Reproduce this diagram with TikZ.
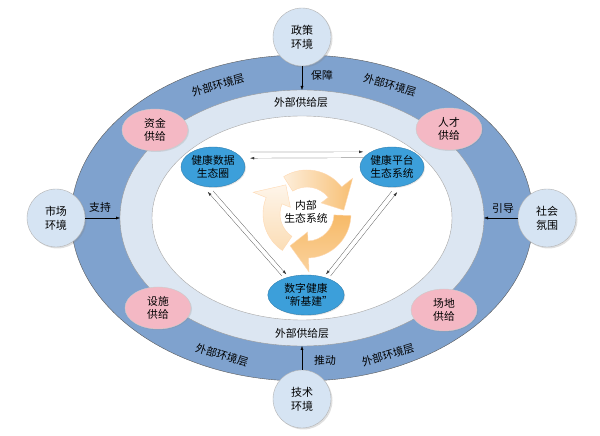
\documentclass[tikz,border=0pt]{standalone}
\usepackage{fontspec}
\newfontfamily\cjk{Noto Sans CJK SC}
\usepackage{tikz}
\usetikzlibrary{shapes.geometric,arrows.meta,shadows}
\usepackage{xcolor}
\definecolor{envring}{HTML}{7FA2CE}
\definecolor{supring}{HTML}{DCE6F2}
\definecolor{envfill}{HTML}{D6E4F3}
\definecolor{supfill}{HTML}{F4B8C4}
\definecolor{corefill}{HTML}{3C9FDA}
\definecolor{cyclepale}{HTML}{FDEEDB}
\definecolor{cyclemid}{HTML}{FAD29D}
\definecolor{cycledark}{HTML}{F7BA68}

\begin{document}
\begin{tikzpicture}[x=1pt, y=1pt,
  every node/.style={font=\cjk\fontsize{10.8}{13.5}\selectfont, align=center},
  layer/.style={ellipse, inner sep=0pt, outer sep=0pt},
  envnode/.style={circle, draw=gray!60, fill=envfill, minimum size=58pt, inner sep=0pt, outer sep=0pt,
    drop shadow={opacity=0.25, shadow xshift=1.5pt, shadow yshift=-1.5pt}, font=\cjk\fontsize{11}{14}\selectfont},
  supnode/.style={ellipse, draw=gray!40, fill=supfill, minimum width=66pt, minimum height=42pt, inner sep=0pt,
    drop shadow={opacity=0.2, shadow xshift=1pt, shadow yshift=-1pt}},
  corenode/.style={ellipse, draw=corefill!80!black, fill=corefill, minimum width=64pt, minimum height=40pt,
    inner sep=0pt, outer sep=0pt, drop shadow={opacity=0.2, shadow xshift=1pt, shadow yshift=-1pt}},
  link/.style={-{Latex[length=4pt,width=3pt]}, thin, black},
  flow/.style={-{Latex[length=4pt,width=2.6pt]}, very thin, black!80},
]
\useasboundingbox (0,0) rectangle (600,436);

% Layers
\node[layer, draw=black!65, fill=envring, minimum width=462pt, minimum height=326pt] (envlayer) at (302,218) {};
\node[layer, draw=gray!80, fill=supring, minimum width=364pt, minimum height=256pt] (suplayer) at (302,218) {};
\node[layer, draw=gray!70, fill=white, minimum width=300pt, minimum height=204pt] (corelayer) at (302,218) {};

% Layer labels
\node[rotate=16] (envTL) at (218,351) {外部环境层};
\node[rotate=-16] (envTR) at (390,351) {外部环境层};
\node[rotate=-17] (envBL) at (222,81) {外部环境层};
\node[rotate=17] (envBR) at (388,81) {外部环境层};
\node (supT) at (301,334) {外部供给层};
\node (supB) at (302,103) {外部供给层};

% Supply
\node[supnode] (fund) at (155,306) {资金\\供给};
\node[supnode] (talent) at (449,307) {人才\\供给};
\node[supnode] (facility) at (158,128) {设施\\供给};
\node[supnode] (site) at (444,126) {场地\\供给};

% Environment
\node[envnode] (policy) at (302,399) {政策\\环境};
\node[envnode] (market) at (56,218) {市场\\环境};
\node[envnode] (social) at (547,218) {社会\\氛围};
\node[envnode] (tech) at (302,37) {技术\\环境};

\draw[link] (policy) -- (suplayer.north);
\draw[link] (market) -- (suplayer.west);
\draw[link] (social) -- (suplayer.east);
\draw[link] (tech) -- (suplayer.south);
\node (guard) at (322,361) {保障};
\node (support) at (100,229) {支持};
\node (guide) at (503,228) {引导};
\node (drive) at (325,76) {推动};

% Inner cycle
\begin{scope}[shift={(307,222)}, draw=orange!30, line width=0.4pt]
\draw[bottom color=cyclemid!60!cyclepale, top color=cyclepale!60!white]
  (-124:44pt) arc[start angle=-124, end angle=-202, radius=44pt] -- (-202:58pt) -- (-234:36pt) -- (-202:18pt)
  -- (-202:27pt) arc[start angle=-202, end angle=-124, radius=27pt] -- cycle;
\draw[left color=cyclepale, right color=cycledark!80!cyclemid]
  (122:44pt) arc[start angle=122, end angle=38, radius=44pt] -- (38:58pt) -- (6:37pt) -- (38:18pt)
  -- (38:27pt) arc[start angle=38, end angle=122, radius=27pt] -- cycle;
\draw[top color=cycledark, bottom color=cyclemid]
  (-2:44pt) arc[start angle=-2, end angle=-88, radius=44pt] -- (-88:58pt) -- (-118:36pt) -- (-88:18pt)
  -- (-88:27pt) arc[start angle=-88, end angle=-2, radius=27pt] -- cycle;
\end{scope}
\node (inner) at (306,224) {内部\\生态系统};

% Core
\node[corenode] (data) at (213,269) {健康数据\\生态圈};
\node[corenode] (platform) at (392,269) {健康平台\\生态系统};
\node[corenode] (infra) at (306,141) {数字健康\\“新基建”};

\draw[flow, shorten <=16pt, shorten >=8pt] (data.35.3) -- (platform.144.7);
\draw[flow, shorten <=0pt, shorten >=8.4pt] (platform.162.5) -- (data.17.5);
\draw[flow, shorten <=3.6pt, shorten >=8pt] (infra.143.4) -- (data.241.3);
\draw[flow, shorten <=5.5pt, shorten >=3.8pt] (data.260.6) -- (infra.134.4);
\draw[flow, shorten <=3.6pt, shorten >=8pt] (infra.36.6) -- (platform.298.7);
\draw[flow, shorten <=5.5pt, shorten >=3.8pt] (platform.279.4) -- (infra.45.6);
\end{tikzpicture}
\end{document}
